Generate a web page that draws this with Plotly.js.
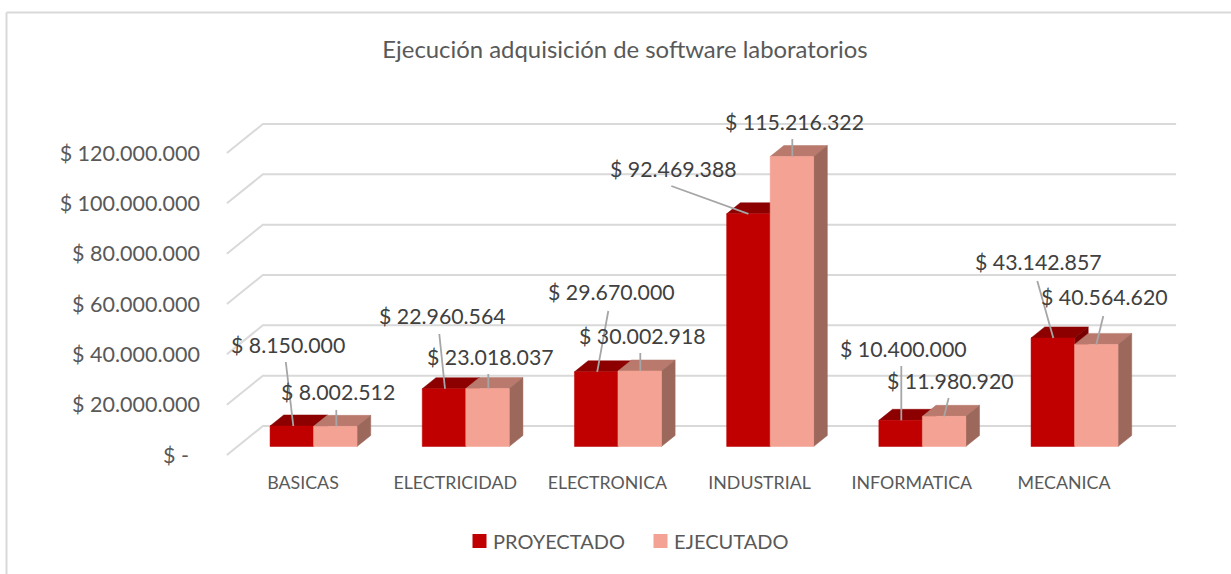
<!DOCTYPE html>
<html><head><meta charset="utf-8">
<script src="https://cdn.plot.ly/plotly-3.0.1.min.js"></script>
<style>html,body{margin:0;padding:0;background:#fff;overflow:hidden}
/* tighten the gap between legend swatch and text, as in the reference */
.legendtext{transform:translateX(-6.5px)}</style>
</head><body><div id="chart" style="width:1231px;height:574px"></div>
<script>
// ---- data ----
const categories = ["BASICAS","ELECTRICIDAD","ELECTRONICA","INDUSTRIAL","INFORMATICA","MECANICA"];
const proyectado = [8150000,22960564,29670000,92469388,10400000,43142857];
const ejecutado  = [8002512,23018037,30002918,115216322,11980920,40564620];
const tickValues = [0,20000000,40000000,60000000,80000000,100000000,120000000];
const tickLabels = ["$ -\u00a0\u00a0","$ 20.000.000","$ 40.000.000","$ 60.000.000","$ 80.000.000","$ 100.000.000","$ 120.000.000"];
const seriesNames = ["PROYECTADO","EJECUTADO"];

// ---- label placement: pixel offsets from the centre of each bar's top front edge ----
const labelOffP = [[-3.5,-81],[-1.2,-72.7],[15.6,-79.8],[-74.6,-44.8],[3.2,-71.3],[-14,-75.9]];
const labelOffE = [[3.5,-34.4],[3.3,-31.6],[3.6,-35],[3.4,-34.5],[6.8,-35.3],[8.5,-47.4]];
const leadP = [[-6,-64,1.5],[-4.7,-54.7,1],[12.1,-60.8,1],[-77.1,-27.8,0],[0.7,-54.3,0.7],[-15.5,-56.9,0.5]];
const leadE = [[1,-16.4,1],[0.8,-14.6,0.8],[0.6,-18,0.6],[0.4,-17.5,0.4],[4.5,-18.3,0],[7,-28.4,0]];

// ---- pseudo-3D geometry ----
const L=205,T=100,W=1000,H=370;           // plot box
const pxPerCat=152.2, pxPerPeso=2.5167e-6;
const originX=303, originY=455;           // pixel of category 0 / value 0 on the front plane
const depthX=36, depthY=29;               // pixel shift between front plane and back wall
const dFront=0.293, dBack=0.673, barW=43.5/pxPerCat;
const xr=[(L-originX)/pxPerCat,(L+W-originX)/pxPerCat];
const yr=[(originY-(T+H))/pxPerPeso,(originY-T)/pxPerPeso];
const px=dxp=>dxp/pxPerCat, py=dyp=>-dyp/pxPerPeso;
const pX=(x,d)=>x+px(d*depthX), pY=(v,d)=>v+py(-d*depthY);

function faces(vals,x0,x1){
  const top={x:[],y:[]},side={x:[],y:[]},front={x:[],y:[]};
  const add=(f,pts)=>{pts.forEach(p=>{f.x.push(pX(p[0],p[2]));f.y.push(pY(p[1],p[2]));});f.x.push(null);f.y.push(null);};
  vals.forEach((v,i)=>{
    const a=i+x0,b=i+x1;
    add(top,[[a,v,dFront],[b,v,dFront],[b,v,dBack],[a,v,dBack],[a,v,dFront]]);
    add(side,[[b,0,dFront],[b,v,dFront],[b,v,dBack],[b,0,dBack],[b,0,dFront]]);
    add(front,[[a,0,dFront],[b,0,dFront],[b,v,dFront],[a,v,dFront],[a,0,dFront]]);
  });
  return {top,side,front};
}
function poly(f,color){
  return {type:'scatter',mode:'lines',x:f.x,y:f.y,fill:'toself',fillcolor:color,
          line:{color:color,width:0.5},hoverinfo:'skip',showlegend:false};
}
// gridlines on the left wall and back wall
const grid={x:[],y:[]};
tickValues.forEach(v=>{
  grid.x.push(pX(-0.5,0),pX(-0.5,1),pX(5.5,1),null);
  grid.y.push(pY(v,0),pY(v,1),pY(v,1),null);
});
const fp=faces(proyectado,-barW,0), fe=faces(ejecutado,0,barW);

const traces=[
  {type:'scatter',mode:'lines',x:grid.x,y:grid.y,line:{color:'#d9d9d9',width:2},hoverinfo:'skip',showlegend:false},
  poly(fp.top,'#8c0000'),poly(fp.side,'#780000'),poly(fp.front,'#c00000'),
  poly(fe.top,'#b97a6d'),poly(fe.side,'#9c685c'),poly(fe.front,'#f4a293')
];
// leader lines and labels
const annotations=[];
function labels(vals,cx,off,lead){
  const lx=[],ly=[];
  vals.forEach((v,i)=>{
    const ax=pX(i+cx,dFront), ay=pY(v,dFront);
    lx.push(ax+px(lead[i][0]),ax+px(lead[i][2]),null);
    ly.push(ay+py(lead[i][1]),ay,null);
    annotations.push({x:ax+px(off[i][0]-0.5),y:ay+py(off[i][1]),xref:'x',yref:'y',showarrow:false,
      xanchor:'center',yanchor:'middle',
      text:'$ '+v.toString().replace(/\B(?=(\d{3})+$)/g,'.'),
      font:{family:'Lato',size:21.3,color:'#404040'}});
  });
  traces.push({type:'scatter',mode:'lines',x:lx,y:ly,line:{color:'#a6a6a6',width:1.8},hoverinfo:'skip',showlegend:false});
}
labels(proyectado,-barW/2,labelOffP,leadP);
labels(ejecutado,barW/2,labelOffE,leadE);
// legend entries
[['#c00000',0],['#f4a293',1]].forEach(c=>traces.push({type:'scatter',mode:'markers',x:[null],y:[null],
  name:seriesNames[c[1]],marker:{symbol:'square',size:14,color:c[0]},hoverinfo:'skip'}));

const bx=p=>(p-L)/W, by=p=>1-(p-T)/H;
const layout={
  width:1231,height:574,margin:{l:L,r:1231-L-W,t:T,b:574-T-H,pad:0},
  paper_bgcolor:'#fff',plot_bgcolor:'rgba(0,0,0,0)',
  title:{text:'Ejecución adquisición de software laboratorios',x:625/1231,xanchor:'center',xref:'container',
         y:1-50/574,yanchor:'middle',yref:'container',font:{family:'Lato',size:23.9,color:'#595959'}},
  xaxis:{range:xr,tickmode:'array',tickvals:categories.map((c,i)=>i),ticktext:categories,showgrid:false,zeroline:false,
         showline:false,ticks:'',ticklabelstandoff:0,tickangle:0,tickfont:{family:'Lato',size:17.8,color:'#595959'}},
  yaxis:{range:yr,tickmode:'array',tickvals:tickValues,ticktext:tickLabels,showgrid:false,zeroline:false,
         showline:false,ticks:'',ticklabelstandoff:4,tickfont:{family:'Lato',size:21.5,color:'#595959'}},
  showlegend:true,
  legend:{orientation:'h',x:bx(459.5),y:by(541),xanchor:'left',yanchor:'middle',bgcolor:'rgba(0,0,0,0)',
          entrywidth:136,entrywidthmode:'pixels',
          font:{family:'Lato',size:20,color:'#595959'},itemclick:false,itemdoubleclick:false},
  annotations:annotations,
  shapes:[{type:'line',xref:'paper',yref:'paper',x0:bx(6.5),x1:bx(1231),y0:by(12.5),y1:by(12.5),line:{color:'#d9d9d9',width:2}},
          {type:'line',xref:'paper',yref:'paper',x0:bx(6.5),x1:bx(6.5),y0:by(12.5),y1:by(574),line:{color:'#d9d9d9',width:2}}]
};
Plotly.newPlot('chart',traces,layout,{displayModeBar:false,staticPlot:true});
</script></body></html>
